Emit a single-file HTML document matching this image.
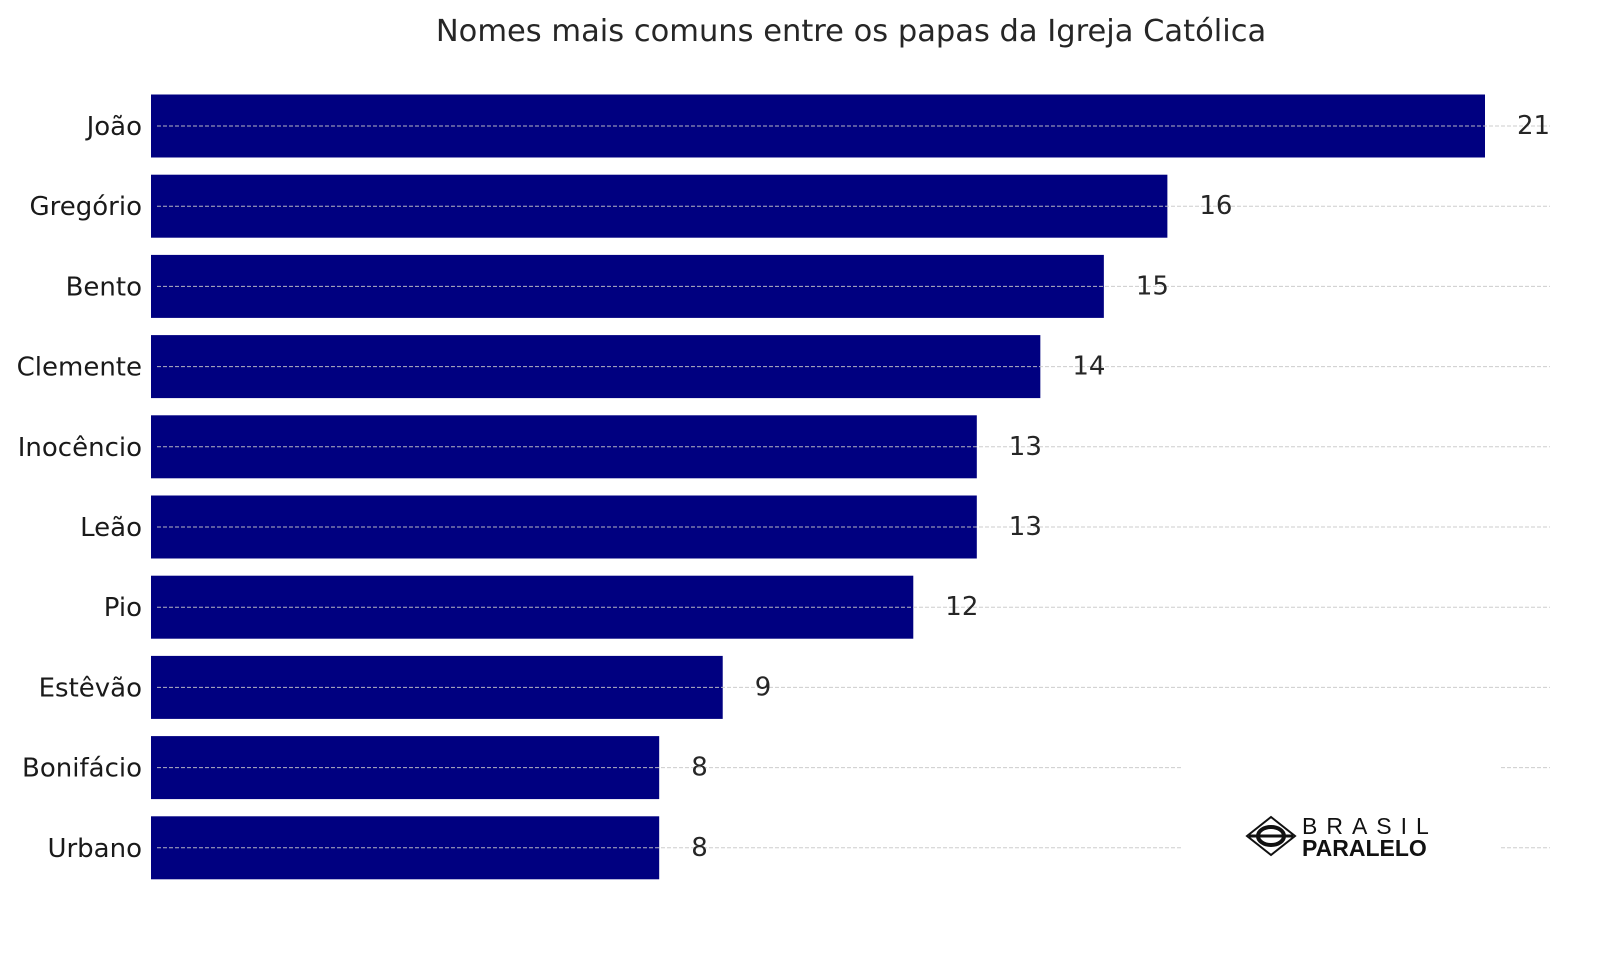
<!DOCTYPE html>
<html><head><meta charset="utf-8"><style>
html,body{margin:0;padding:0;background:#fff;width:1600px;height:960px;overflow:hidden}
svg{display:block;font-family:"DejaVu Sans","Liberation Sans",sans-serif}
</style></head><body>
<svg id="chart" width="1600" height="960">
<text x="851" y="41" text-anchor="middle" font-size="30.5" fill="#262626">Nomes mais comuns entre os papas da Igreja Católica</text>
<g id="bars"></g>
<g>
<rect x="1182" y="740" width="318" height="140" fill="#fff"/>
<polygon points="1247,836 1271,817 1295,836 1271,855" fill="none" stroke="#111" stroke-width="2"/>
<ellipse cx="1271" cy="836" rx="13" ry="9" fill="none" stroke="#111" stroke-width="4"/>
<line x1="1249" y1="836" x2="1293" y2="836" stroke="#111" stroke-width="3"/>
<text x="1302" y="834" font-size="23" letter-spacing="9" fill="#111" font-family="Liberation Sans,sans-serif">BRASIL</text>
<text x="1302" y="856" font-size="23" font-weight="bold" fill="#111" font-family="Liberation Sans,sans-serif">PARALELO</text>
</g>
</svg>
<script>
const categories=["João","Gregório","Bento","Clemente","Inocêncio","Leão","Pio","Estêvão","Bonifácio","Urbano"];
const values=[21,16,15,14,13,13,12,9,8,8];
const NS="http://www.w3.org/2000/svg";
const x0=151, unit=1334/21;
const xs=v=>x0+v*unit;
const yc=i=>126+i*80.2;
const g=document.getElementById('bars');
function mk(t,a){const e=document.createElementNS(NS,t);for(const k in a)e.setAttribute(k,a[k]);return e;}
categories.forEach((c,i)=>{
  const y=yc(i);
  const r=mk('rect',{x:x0,y:y-31.5,width:xs(values[i])-x0,height:63,fill:'#000080'});
  
  
  g.appendChild(r);
  const l=mk('line',{x1:157,x2:1550,y1:y,y2:y,stroke:'#c8c8c8','stroke-width':1,'stroke-dasharray':'4,2','stroke-opacity':0.9});
  
  
  g.appendChild(l);
  const t=mk('text',{x:142,y:y+9,'text-anchor':'end','font-size':26,fill:'#1a1a1a'});
  t.textContent=c;
  
  
  g.appendChild(t);
  const vt=mk('text',{x:xs(values[i])+32,y:y+8,'font-size':26,fill:'#262626'});
  vt.textContent=values[i];
  
  
  g.appendChild(vt);
});
</script>
</body></html>
